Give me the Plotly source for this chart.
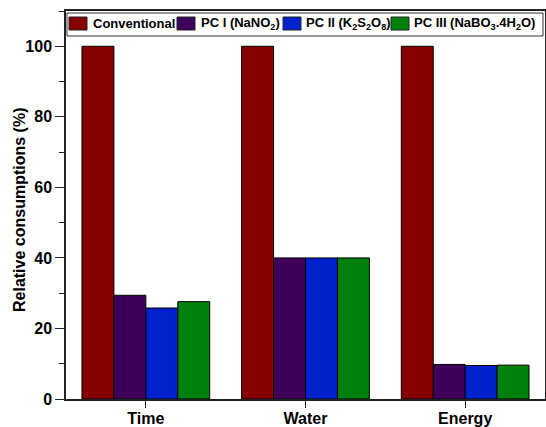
import plotly.graph_objects as go

categories = ["Time", "Water", "Energy"]
series_names = ["Conventional", "PC I (NaNO<sub>2</sub>)", "PC II (K<sub>2</sub>S<sub>2</sub>O<sub>8</sub>)", "PC III (NaBO<sub>3</sub>.4H<sub>2</sub>O)"]
conventional = [100, 100, 100]
pc1 = [29.4, 40, 9.8]
pc2 = [25.8, 40, 9.5]
pc3 = [27.6, 40, 9.6]
colors = ["#870000", "#3e0058", "#0022cc", "#00800d"]
y_title = "Relative consumptions (%)"

W, H = 546, 427
ML, MR, MT, MB = 66, 1, 11, 28
PW, PH = W - ML - MR, H - MT - MB


def px(x):
    return (x - ML) / PW


def py(y):
    return (H - MB - y) / PH


fig = go.Figure()
for name, vals, c in zip(series_names, [conventional, pc1, pc2, pc3], colors):
    fig.add_trace(go.Bar(x=categories, y=vals, name=name, showlegend=False,
                         marker=dict(color=c, line=dict(color="black", width=1))))

# custom legend (layout decoration), matching the reference's compact layout
swatch_x = [69, 177, 283, 391]
text_x = [91, 199, 304, 412]
shapes = [dict(type="rect", xref="paper", yref="paper", x0=px(67), x1=px(543), y0=py(36), y1=py(13),
               line=dict(color="#333", width=1), fillcolor="white", layer="above")]
annotations = []
for sx, tx, name, c in zip(swatch_x, text_x, series_names, colors):
    shapes.append(dict(type="rect", xref="paper", yref="paper", x0=px(sx), x1=px(sx + 18),
                       y0=py(30), y1=py(17), line=dict(color="#222", width=1), fillcolor=c, layer="above"))
    annotations.append(dict(text=name, xref="paper", yref="paper", x=px(tx), y=py(23.5),
                            xanchor="left", yanchor="middle", showarrow=False,
                            font=dict(size=13, weight="bold", family="Liberation Sans, Arial", color="black")))
# y-axis title
annotations.append(dict(text=y_title, xref="paper", yref="paper", x=px(20), y=py(210),
                        xanchor="center", yanchor="middle", showarrow=False, textangle=-90,
                        font=dict(size=16, weight="bold", family="Liberation Sans, Arial", color="black")))

fig.update_layout(
    width=W, height=H,
    margin=dict(l=ML, r=MR, t=MT, b=MB),
    plot_bgcolor="white", paper_bgcolor="white",
    barmode="group", bargap=0.2, bargroupgap=0,
    font=dict(family="Liberation Sans, Arial", color="black", size=16),
    showlegend=False,
    shapes=shapes, annotations=annotations,
)
fig.update_xaxes(
    range=[-0.5, 2.5], showline=True, linecolor="#222", linewidth=1.5, mirror=True,
    ticks="outside", ticklen=7, tickcolor="#222", tickwidth=1.2, automargin=False,
    tickfont=dict(size=16, weight="bold"), ticklabelstandoff=-3,
    minor=dict(ticks="outside", ticklen=4, tickcolor="#222", dtick=1, tick0=-0.5, showgrid=False),
    showgrid=False,
)
fig.update_yaxes(
    range=[0, 110], showline=True, linecolor="#222", linewidth=1.5, mirror=True,
    ticks="outside", ticklen=9, tickcolor="#222", tickwidth=1.2, dtick=20, tick0=0,
    tickfont=dict(size=16, weight="bold"), automargin=False,
    minor=dict(ticks="outside", ticklen=5, tickcolor="#222", dtick=10, showgrid=False),
    showgrid=False, zeroline=False,
)
fig.write_html("out.html")
